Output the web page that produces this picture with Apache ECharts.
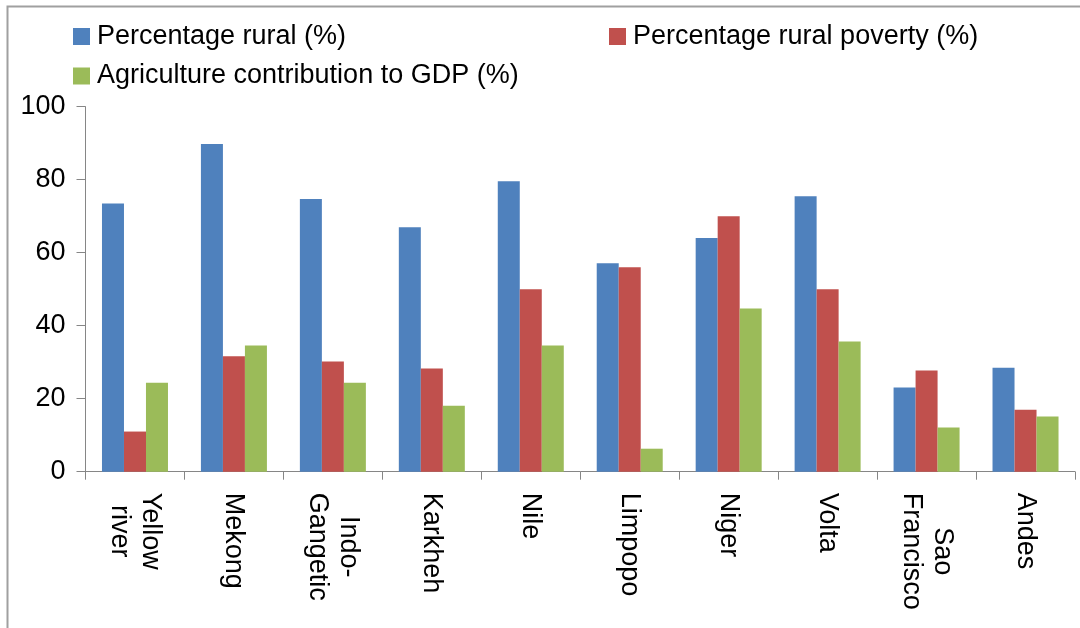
<!DOCTYPE html>
<html>
<head>
<meta charset="utf-8">
<script src="https://cdn.jsdelivr.net/npm/echarts@6/dist/echarts.min.js"></script>
<style>
  html, body { margin: 0; padding: 0; background: #ffffff; }
  #chart { width: 1080px; height: 628px; }
</style>
</head>
<body>
<div id="chart"></div>
<script>
// River basins and their rural / poverty / agriculture shares
const categories = ['Yellow\nriver', 'Mekong', 'Indo-\nGangetic', 'Karkheh', 'Nile', 'Limpopo', 'Niger', 'Volta', 'Sao\nFrancisco', 'Andes'];
const seriesNames = ['Percentage rural (%)', 'Percentage rural poverty (%)', 'Agriculture contribution to GDP (%)'];
const percentRural = [73.5, 89.8, 74.7, 67.0, 79.6, 57.1, 64.0, 75.5, 23.1, 28.5];
const percentRuralPoverty = [11.0, 31.6, 30.2, 28.3, 50.0, 56.0, 70.0, 50.0, 27.7, 17.0];
const agricultureGdp = [24.4, 34.6, 24.4, 18.1, 34.6, 6.3, 44.7, 35.7, 12.1, 15.1];
const yTicks = [0, 20, 40, 60, 80, 100];

const FONT = '"Liberation Sans", Arial, sans-serif';
const FONT_SIZE = 27;
const colors = ['#4F81BD', '#C0504D', '#9BBB59'];
const axisGray = '#868686';

function legendAt(name, left, top) {
  return {
    data: [name],
    left: left,
    top: top,
    padding: 0,
    orient: 'horizontal',
    icon: 'rect',
    itemWidth: 17,
    itemHeight: 17,
    selectedMode: false,
    textStyle: { fontFamily: FONT, fontSize: FONT_SIZE, color: '#000', lineHeight: 30, padding: [0, 0, 0, 2] }
  };
}

const chart = echarts.init(document.getElementById('chart'), null, { renderer: 'canvas' });

chart.setOption({
  animation: false,
  backgroundColor: '#ffffff',
  color: colors,
  graphic: [{
    type: 'rect',
    shape: { x: 7.5, y: 6.5, width: 1100, height: 660 },
    style: { fill: 'none', stroke: '#a0a0a0', lineWidth: 2 },
    silent: true
  }],
  legend: [
    legendAt(seriesNames[0], 73, 21.5),
    legendAt(seriesNames[1], 609, 21.5),
    legendAt(seriesNames[2], 73, 61)
  ],
  grid: { left: 85.5, right: 5, top: 106.7, bottom: 156.3, containLabel: false },
  xAxis: {
    type: 'category',
    data: categories,
    boundaryGap: true,
    axisLine: { show: true, lineStyle: { color: axisGray, width: 1 } },
    axisTick: { show: true, interval: 0, length: 8, lineStyle: { color: axisGray } },
    axisLabel: {
      interval: 0,
      rotate: -90,
      margin: 21,
      formatter: function (v) {
        return v.split('\n').map(function (s) { return '{c|' + s + '}'; }).join('\n');
      },
      rich: {
        c: { align: 'center', fontFamily: FONT, fontSize: FONT_SIZE, color: '#000', lineHeight: 31 }
      }
    },
    splitLine: { show: false }
  },
  yAxis: {
    type: 'value',
    min: yTicks[0],
    max: yTicks[yTicks.length - 1],
    interval: yTicks[1] - yTicks[0],
    axisLine: { show: true, lineStyle: { color: axisGray, width: 1 } },
    axisTick: { show: true, length: 9, lineStyle: { color: axisGray } },
    axisLabel: { margin: 20, fontFamily: FONT, fontSize: FONT_SIZE, color: '#000' },
    splitLine: { show: false }
  },
  series: [
    { name: seriesNames[0], type: 'bar', data: percentRural, barGap: '0%', barCategoryGap: '33.3%', itemStyle: { color: colors[0] } },
    { name: seriesNames[1], type: 'bar', data: percentRuralPoverty, barGap: '0%', barCategoryGap: '33.3%', itemStyle: { color: colors[1] } },
    { name: seriesNames[2], type: 'bar', data: agricultureGdp, barGap: '0%', barCategoryGap: '33.3%', itemStyle: { color: colors[2] } }
  ]
});
</script>
</body>
</html>
